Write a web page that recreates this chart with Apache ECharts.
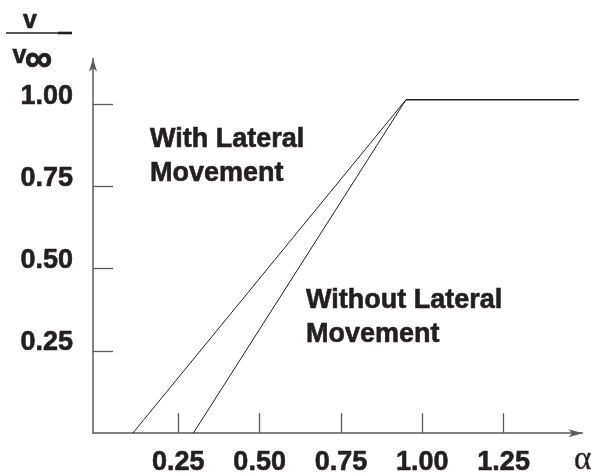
<!DOCTYPE html>
<html>
<head>
<meta charset="utf-8">
<script src="https://cdn.jsdelivr.net/npm/echarts@6/dist/echarts.min.js"></script>
<style>
html,body{margin:0;padding:0;background:#fff;}
#chart{width:592px;height:476px;}
</style>
</head>
<body>
<div id="chart"></div>
<script>
// Data
var xTicks = [0.25, 0.50, 0.75, 1.00, 1.25];
var yTicks = [0.25, 0.50, 0.75, 1.00];
var withLateral = [[0.11, 0], [0.95, 1.014]];
var withoutLateral = [[0.296, 0], [0.95, 1.014]];
var plateau = [[0.95, 1.014], [1.482, 1.014]];

var ink = '#231f20';
var axisGray = '#5a5a5a';
var fontFam = '"Liberation Sans", Arial, Helvetica, sans-serif';

var chart = echarts.init(document.getElementById('chart'), null, {renderer: 'canvas'});
chart.setOption({
  animation: false,
  backgroundColor: '#ffffff',
  grid: {left: 93, right: 9.5, top: 58.5, bottom: 36, containLabel: false},
  xAxis: {
    type: 'value', min: -0.0123, max: 1.4925,
    splitLine: {show: false},
    axisLine: {onZero: false, symbol: ['none', 'arrow'], symbolSize: [6, 14],
      lineStyle: {color: axisGray, width: 1.5}},
    axisTick: {show: true, inside: true, length: 20, customValues: xTicks,
      lineStyle: {color: axisGray, width: 1.3}},
    axisLabel: {customValues: xTicks, margin: 16, verticalAlign: 'top', lineHeight: 26,
      color: ink, fontSize: 27, fontWeight: 'bold', fontFamily: fontFam,
      textBorderColor: ink, textBorderWidth: 0.6,
      formatter: function (v) { return v.toFixed(2); }}
  },
  yAxis: {
    type: 'value', min: 0, max: 1.1391,
    splitLine: {show: false},
    axisLine: {onZero: false, symbol: ['none', 'arrow'], symbolSize: [6, 13],
      lineStyle: {color: axisGray, width: 1.5}},
    axisTick: {show: true, inside: true, length: 20, customValues: yTicks,
      lineStyle: {color: axisGray, width: 1.3}},
    axisLabel: {customValues: yTicks, margin: 20, verticalAlign: 'bottom', lineHeight: 16,
      color: ink, fontSize: 27, fontWeight: 'bold', fontFamily: fontFam,
      textBorderColor: ink, textBorderWidth: 0.6,
      formatter: function (v) { return v.toFixed(2); }}
  },
  series: [
    {name: 'With Lateral Movement', type: 'line', data: withLateral, symbol: 'none',
      lineStyle: {color: ink, width: 1}},
    {name: 'Without Lateral Movement', type: 'line', data: withoutLateral, symbol: 'none',
      lineStyle: {color: ink, width: 1}},
    {name: 'plateau', type: 'line', data: plateau, symbol: 'none',
      lineStyle: {color: ink, width: 1.5}}
  ],
  graphic: [
    {type: 'text', x: 30, y: 21, style: {text: 'v', fill: ink, stroke: ink, lineWidth: 0.6,
      font: 'bold 25px ' + fontFam, textAlign: 'center', textVerticalAlign: 'middle'}},
    {type: 'line', shape: {x1: 6, y1: 33, x2: 58, y2: 33}, style: {stroke: ink, lineWidth: 1.6}},
    {type: 'line', shape: {x1: 58, y1: 33, x2: 72, y2: 33}, style: {stroke: ink, lineWidth: 2.6}},
    {type: 'text', x: 12.5, y: 56.5, style: {text: 'v', fill: ink, stroke: ink, lineWidth: 0.6,
      font: 'bold 25px ' + fontFam, textAlign: 'left', textVerticalAlign: 'middle'}},
    {type: 'text', x: 25, y: 61, style: {text: '∞', fill: ink, stroke: ink, lineWidth: 1,
      font: 'bold 38px ' + fontFam, textAlign: 'left', textVerticalAlign: 'middle'}},
    {type: 'text', x: 150, y: 123, style: {text: 'With Lateral\nMovement', fill: ink,
      stroke: ink, lineWidth: 0.6,
      font: 'bold 27px ' + fontFam, lineHeight: 34, textAlign: 'left', textVerticalAlign: 'top'}},
    {type: 'text', x: 306, y: 283.7, style: {text: 'Without Lateral\nMovement', fill: ink,
      stroke: ink, lineWidth: 0.6,
      font: 'bold 27px ' + fontFam, lineHeight: 34, textAlign: 'left', textVerticalAlign: 'top'}},
    {type: 'text', x: 574, y: 460, style: {text: 'α', fill: ink, stroke: ink, lineWidth: 0.3,
      font: '33px "Liberation Serif", "DejaVu Serif", serif', textAlign: 'left', textVerticalAlign: 'middle'}}
  ]
});
</script>
</body>
</html>
